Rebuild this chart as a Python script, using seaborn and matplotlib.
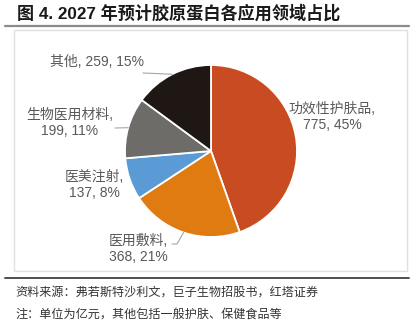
import matplotlib
matplotlib.use("Agg")
import matplotlib.pyplot as plt
import seaborn as sns
import numpy as np

# 2027E collagen demand by application (unit: 100m CNY)
categories = ["功效性护肤品", "医用敷料", "医美注射", "生物医用材料", "其他"]
values = [775, 368, 137, 199, 259]
colors = ["#C94B22", "#E07B12", "#5B9BD5", "#6E6C69", "#1E1714"]

title = "图 4. 2027 年预计胶原蛋白各应用领域占比"
source = "资料来源：弗若斯特沙利文，巨子生物招股书，红塔证券"
note = "注：单位为亿元，其他包括一般护肤、保健食品等"

sns.set_theme(style="white")
plt.rcParams["font.family"] = ["Liberation Sans", "Noto Sans CJK SC"]

W, H = 415, 323
fig = plt.figure(figsize=(W / 100, H / 100), dpi=100)
fig.patch.set_facecolor("white")

# pie centre and radius in pixels; axes spans the figure so 1 data unit = R px
CX, CY, R = 211, 151, 86
ax = fig.add_axes([0, 0, 1, 1])
ax.axis("off")


def px(x, y):
    return (x - CX) / R, (CY - y) / R


ax.pie(values, colors=colors, startangle=90, counterclock=False, radius=1,
       wedgeprops=dict(edgecolor="white", linewidth=1.3), center=(0, 0))
ax.set_xlim(-CX / R, (W - CX) / R)
ax.set_ylim(-(H - CY) / R, CY / R)
ax.set_aspect("equal")

total = sum(values)
pcts = [round(v / total * 100) for v in values]

# label centres (px) and line layout
label_pos = {
    "功效性护肤品": (332, 117, 2),
    "医用敷料": (138, 249, 2),
    "医美注射": (94, 185, 2),
    "生物医用材料": (70, 123, 2),
    "其他": (97, 62, 1),
}
label_color = "#595959"
for cat, v, p in zip(categories, values, pcts):
    x, y, nlines = label_pos[cat]
    if nlines == 2:
        txt = f"{cat},\n{v}, {p}%"
    else:
        txt = f"{cat}, {v}, {p}%"
    ax.text(*px(x, y), txt, ha="center", va="center", fontsize=10,
            color=label_color, linespacing=1.25)

# leader lines from labels to wedge midpoints
angles = []
cum = 0
for v in values:
    mid = 90 - (cum + v / 2) / total * 360
    angles.append(np.deg2rad(mid))
    cum += v
edge = {c: (np.cos(a), np.sin(a)) for c, a in zip(categories, angles)}
lc = "#A6A6A6"
ex, ey = edge["其他"]
ax.plot([px(143, 73)[0], ex], [px(143, 73)[1], ey], color=lc, lw=0.8)
ex, ey = edge["生物医用材料"]
ax.plot([px(115, 128)[0], ex], [px(115, 128)[1], ey], color=lc, lw=0.8)
ex, ey = edge["医用敷料"]
p0, p1 = px(172, 244), px(177, 244)
ax.plot([p0[0], p1[0], ex], [p0[1], p1[1], ey], color=lc, lw=0.8)

# frame lines
def hline(y, x0, x1, color, lw):
    fig.add_artist(plt.Line2D([x0 / W, x1 / W], [1 - y / H, 1 - y / H],
                              color=color, lw=lw, transform=fig.transFigure))

hline(26, 5, 409, "#8C8C8C", 1.6)
hline(278, 5, 409, "#404040", 1.3)
fig.add_artist(plt.Rectangle((14 / W, 1 - 271 / H), (407 - 14) / W, (271 - 30) / H,
                             fill=False, edgecolor="#E0E0E0", lw=1.0,
                             transform=fig.transFigure))

fig.text(17 / W, 1 - 13 / H, title, ha="left", va="center", fontsize=12.3,
         fontweight="bold", color="#1A1A1A")
fig.text(15 / W, 1 - 293 / H, source, ha="left", va="center", fontsize=8.7,
         color="#333333")
fig.text(15 / W, 1 - 315 / H, note, ha="left", va="center", fontsize=8.7,
         color="#333333")

fig.savefig("out.png", dpi=100, facecolor="white")
